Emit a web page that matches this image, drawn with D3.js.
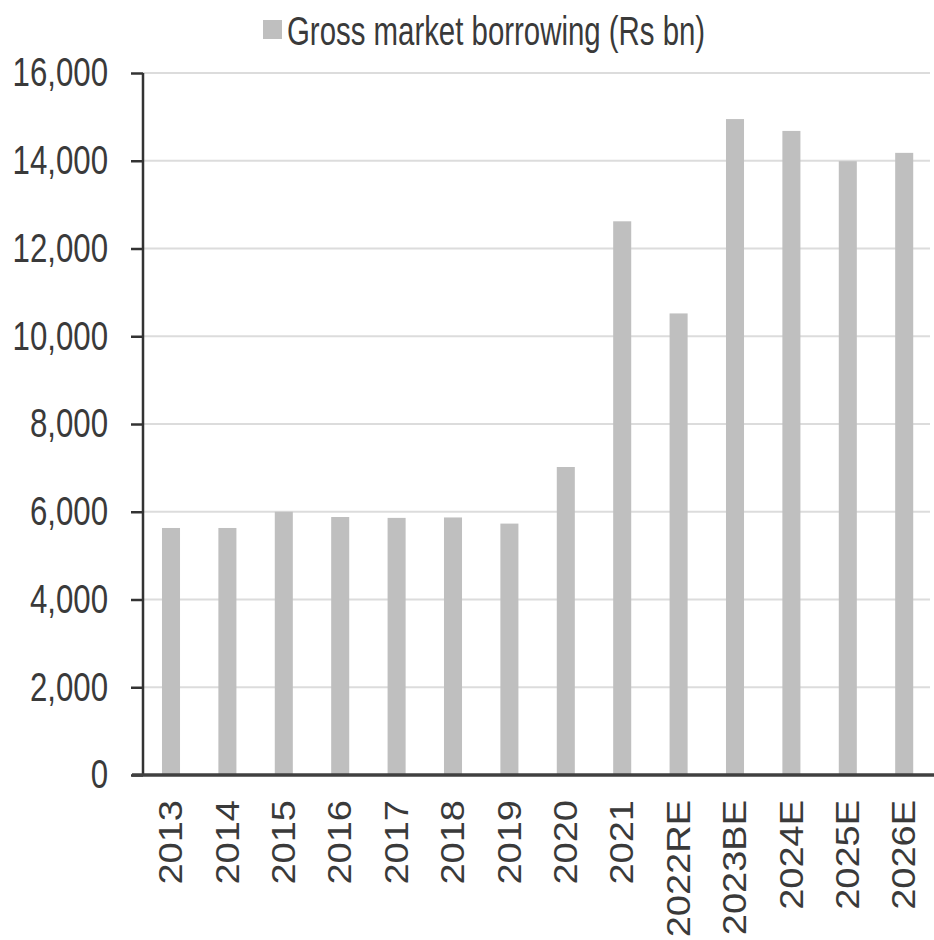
<!DOCTYPE html>
<html>
<head>
<meta charset="utf-8">
<script src="https://cdn.jsdelivr.net/npm/d3@7"></script>
<style>
  body { margin: 0; background: #fff; }
</style>
</head>
<body>
<div id="chart"></div>
<script>
const anios = ["2013", "2014", "2015", "2016", "2017", "2018", "2019", "2020", "2021",
  "2022RE", "2023BE", "2024E", "2025E", "2026E"];
const prestamos = [5630, 5630, 6000, 5880, 5860, 5870, 5730, 7020, 12620, 10520, 14950, 14680, 13990, 14180];
const ticksY = [0, 2000, 4000, 6000, 8000, 10000, 12000, 14000, 16000];
const serie = "Gross market borrowing (Rs bn)";

const WIDTH = 934;
const HEIGHT = 940;
const colorBarra = "#bfbfbf";
const colorTexto = "#3a3a3a";

const SVG = d3.select("#chart").append("svg")
  .attr("width", WIDTH).attr("height", HEIGHT);

const x = d3.scaleBand()
  .domain(anios)
  .range([142.8, 932.4])
  .paddingInner(0.68)
  .paddingOuter(0.34);

const y = d3.scaleLinear()
  .domain([0, 16000])
  .range([775, 73]);

// grilla
SVG.append("g")
  .selectAll("line")
  .data(ticksY.filter(d => d > 0))
  .join("line")
  .attr("x1", 143).attr("x2", 930)
  .attr("y1", d => y(d)).attr("y2", d => y(d))
  .attr("stroke", "#dcdcdc")
  .attr("stroke-width", 2);

// barras
SVG.append("g")
  .selectAll("rect")
  .data(prestamos)
  .join("rect")
  .attr("x", (d, i) => x(anios[i]))
  .attr("width", x.bandwidth())
  .attr("y", d => y(d))
  .attr("height", d => y(0) - y(d))
  .attr("fill", colorBarra);

// eje y
const ejeY = SVG.append("g").attr("transform", "translate(143,0)")
  .call(d3.axisLeft(y).tickValues(ticksY).tickSize(12).tickFormat(""));
ejeY.select(".domain").attr("stroke", "#333").attr("stroke-width", 2.5)
  .attr("d", `M0,${y(16000)}V${y(0)}`);
ejeY.selectAll(".tick line").attr("stroke", "#333").attr("stroke-width", 2.5);

SVG.append("g")
  .selectAll("text")
  .data(ticksY)
  .join("text")
  .attr("transform", d => `translate(108,${y(d)}) scale(0.78,1)`)
  .attr("text-anchor", "end")
  .attr("dominant-baseline", "central")
  .attr("font-family", "Liberation Sans, Arial, sans-serif")
  .attr("font-size", 40)
  .attr("fill", colorTexto)
  .text(d => d3.format(",")(d));

// eje x
SVG.append("line")
  .attr("x1", 132).attr("x2", 934)
  .attr("y1", y(0)).attr("y2", y(0))
  .attr("stroke", "#404040")
  .attr("stroke-width", 3.5);

SVG.append("g")
  .selectAll("text")
  .data(anios)
  .join("text")
  .attr("transform", d => `translate(${x(d) + x.bandwidth() / 2},800) scale(0.88,1) rotate(-90)`)
  .attr("text-anchor", "end")
  .attr("dominant-baseline", "central")
  .attr("font-family", "Liberation Sans, Arial, sans-serif")
  .attr("font-size", 38)
  .attr("fill", colorTexto)
  .text(d => d);

// leyenda
SVG.append("rect")
  .attr("x", 263).attr("y", 20)
  .attr("width", 19).attr("height", 19)
  .attr("fill", colorBarra);

SVG.append("text")
  .attr("transform", "translate(287,45) scale(0.735,1)")
  .attr("font-family", "Liberation Sans, Arial, sans-serif")
  .attr("font-size", 40)
  .attr("fill", colorTexto)
  .text(serie);
</script>
</body>
</html>
